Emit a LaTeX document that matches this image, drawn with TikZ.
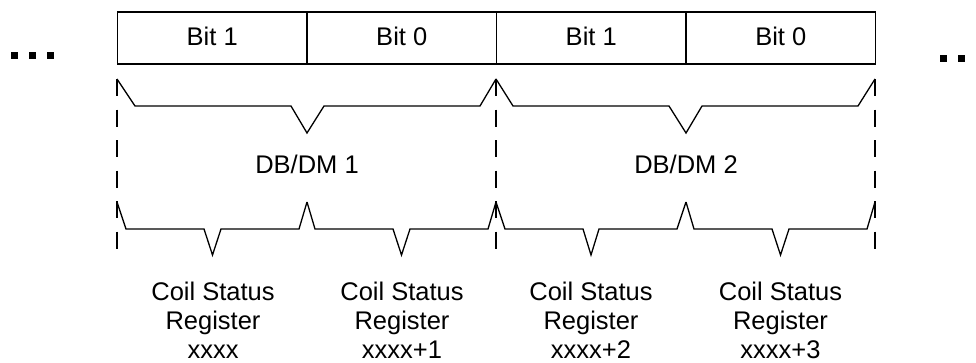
\documentclass[tikz,border=0pt]{standalone}
\usepackage{fontspec}
\setmainfont{Liberation Sans}
\begin{document}
\begin{tikzpicture}[x=1pt,y=-1pt,
  cell/.style={draw, line width=1.8pt, minimum width=189.5pt, minimum height=52pt,
    inner sep=0pt, text height=18.5pt, text depth=4.5pt,
    font=\fontsize{25.5}{29}\selectfont},
  lbl/.style={inner sep=0pt, font=\fontsize{25.5}{29}\selectfont},
  reg/.style={inner sep=0pt, align=center, anchor=north, font=\fontsize{25.5}{29}\selectfont},
  brace/.style={line width=1.3pt, line join=miter},
  sep/.style={line width=2pt, dash pattern=on 17pt off 13.5pt},
  dot/.style={fill=black, minimum size=7pt, inner sep=0pt, draw=none}]
\useasboundingbox (0,0) rectangle (976,362);
% cells
\node[cell] (c1) at (212.25,38) {Bit 1};
\node[cell] (c2) at (401.75,38) {Bit 0};
\node[cell] (c3) at (591.25,38) {Bit 1};
\node[cell] (c4) at (780.75,38) {Bit 0};
% dots
\node[dot] (l1) at (14.5,55) {};
\node[dot] (l2) at (32.5,55) {};
\node[dot] (l3) at (50.5,55) {};
\node[dot] (r1) at (943.5,58) {};
\node[dot] (r2) at (961.5,58) {};
\node[dot] (r3) at (979.5,58) {};
% separators
\draw[sep] (117,79) -- (117,256);
\draw[sep] (496,79) -- (496,256);
\draw[sep] (875,79) -- (875,256);
% upper braces
\draw[brace] (117,79) -- (135,106) -- (291,106) -- (307,133) -- (324,106) -- (480,106) -- (496,79);
\draw[brace] (496,79) -- (513,106) -- (669,106) -- (686,133) -- (702,106) -- (858,106) -- (875,79);
% lower braces
\draw[brace] (117,202) -- (126,229) -- (204,229) -- (212.5,255) -- (221,229) -- (299,229) -- (307,202);
\draw[brace] (307,202) -- (315,229) -- (393,229) -- (401.5,255) -- (410,229) -- (488,229) -- (496,202);
\draw[brace] (496,202) -- (505,229) -- (583,229) -- (591,255) -- (599,229) -- (677,229) -- (686,202);
\draw[brace] (686,202) -- (694,229) -- (772,229) -- (780.5,255) -- (789,229) -- (867,229) -- (875,202);
% labels
\node[lbl, anchor=base] (d1) at (307,173) {DB/DM 1};
\node[lbl, anchor=base] (d2) at (686,173) {DB/DM 2};
\node[reg] (g1) at (213,281.5) {Coil Status\\Register\\xxxx};
\node[reg] (g2) at (402,281.5) {Coil Status\\Register\\xxxx+1};
\node[reg] (g3) at (591,281.5) {Coil Status\\Register\\xxxx+2};
\node[reg] (g4) at (780.5,281.5) {Coil Status\\Register\\xxxx+3};
\end{tikzpicture}
\end{document}
